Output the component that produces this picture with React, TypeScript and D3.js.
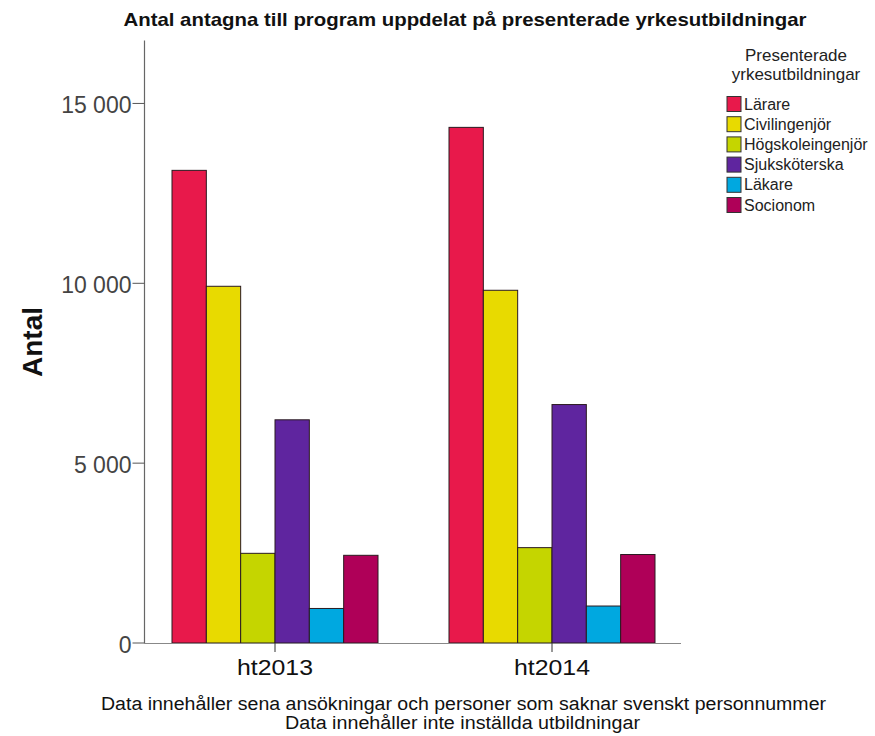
import React from "react";
import * as d3 from "d3";

const periods = ["ht2013", "ht2014"];
const categories = ["Lärare", "Civilingenjör", "Högskoleingenjör", "Sjuksköterska", "Läkare", "Socionom"];
const colors = ["#E8194B", "#E8DA00", "#C5D500", "#5F259F", "#00A8E0", "#AF0058"];
const values2013 = [13140, 9917, 2493, 6205, 960, 2438];
const values2014 = [14335, 9806, 2651, 6629, 1028, 2460];
const seriesValues = [values2013, values2014];
const yTicks = [0, 5000, 10000, 15000];
const tickLabels = ["0", "5 000", "10 000", "15 000"];
const title = "Antal antagna till program uppdelat på presenterade yrkesutbildningar";
const footnotes = [
  "Data innehåller sena ansökningar och personer som saknar svenskt personnummer",
  "Data innehåller inte inställda utbildningar",
];

const W = 875;
const H = 736;
const plotLeft = 144.5;
const plotRight = 681;
const plotBottom = 643;
const plotTop = 40.5;

const narrow = "'Liberation Sans Narrow', 'Arial Narrow', 'Liberation Sans', Arial, sans-serif";
const sans = "'Liberation Sans', Arial, sans-serif";

export default function App() {
  const y = d3.scaleLinear().domain([0, 16750]).range([plotBottom, plotTop]);
  const x0 = d3.scaleBand<string>().domain(periods).range([136.5, 690.5]).padding(0);
  const x1 = d3.scaleBand<string>().domain(categories).range([-103, 103]).padding(0);

  return (
    <svg width={W} height={H} style={{ position: "absolute", left: 0, top: 0, background: "#fff" }}>
      <rect x={0} y={0} width={W} height={H} fill="#fff" />
      <text x={465} y={26} textAnchor="middle" fontFamily={narrow} fontWeight="bold" fontSize={19}
        textLength={683} lengthAdjust="spacingAndGlyphs" fill="#111">{title}</text>

      {/* bars */}
      {periods.map((p, pi) => (
        <g key={p} transform={`translate(${(x0(p) as number) + x0.bandwidth() / 2},0)`}>
          {categories.map((c, ci) => (
            <rect key={c}
              x={x1(c) as number}
              y={y(seriesValues[pi][ci])}
              width={x1.bandwidth()}
              height={plotBottom - y(seriesValues[pi][ci])}
              fill={colors[ci]}
              stroke="#2a1a20"
              strokeWidth={1} />
          ))}
        </g>
      ))}

      {/* axes */}
      <line x1={plotLeft} x2={plotLeft} y1={plotTop} y2={plotBottom + 0.5} stroke="#666" strokeWidth={1.2} />
      <line x1={plotLeft} x2={plotRight} y1={plotBottom + 0.5} y2={plotBottom + 0.5} stroke="#888" strokeWidth={1.2} />
      {yTicks.map((t, i) => (
        <g key={t}>
          <line x1={plotLeft - 12} x2={plotLeft} y1={y(t)} y2={y(t)} stroke="#555" strokeWidth={1} />
          <text x={plotLeft - 13} y={y(t) + 2} dy="0.35em" textAnchor="end" fontFamily={sans} fontSize={23} fill="#444">{tickLabels[i]}</text>
        </g>
      ))}
      {periods.map((p) => {
        const cx = (x0(p) as number) + x0.bandwidth() / 2;
        return (
          <g key={p}>
            <line x1={cx} x2={cx} y1={plotBottom} y2={plotBottom + 9} stroke="#333" strokeWidth={1} />
            <text x={cx} y={675} textAnchor="middle" fontFamily={narrow} fontSize={22} textLength={76} lengthAdjust="spacingAndGlyphs" fill="#111">{p}</text>
          </g>
        );
      })}

      <text transform={`translate(42,342) rotate(-90)`} textAnchor="middle" fontFamily={sans} fontWeight="bold" fontSize={28} fill="#111">Antal</text>

      <text x={463.5} y={710} textAnchor="middle" fontFamily={narrow} fontSize={18} textLength={725} lengthAdjust="spacingAndGlyphs" fill="#111">{footnotes[0]}</text>
      <text x={462.5} y={729} textAnchor="middle" fontFamily={narrow} fontSize={18} textLength={355} lengthAdjust="spacingAndGlyphs" fill="#111">{footnotes[1]}</text>

      {/* legend */}
      <text x={796} y={61} textAnchor="middle" fontFamily={sans} fontSize={17} fill="#222">Presenterade</text>
      <text x={796} y={80} textAnchor="middle" fontFamily={sans} fontSize={17} fill="#222">yrkesutbildningar</text>
      {categories.map((c, i) => {
        const cy = 104 + i * 20.2;
        return (
          <g key={c}>
            <rect x={727} y={cy - 7.5} width={14} height={15} fill={colors[i]} stroke="#333" strokeWidth={1} />
            <text x={744} y={cy} dy="0.35em" fontFamily={sans} fontSize={16} fill="#222">{c}</text>
          </g>
        );
      })}
    </svg>
  );
}
